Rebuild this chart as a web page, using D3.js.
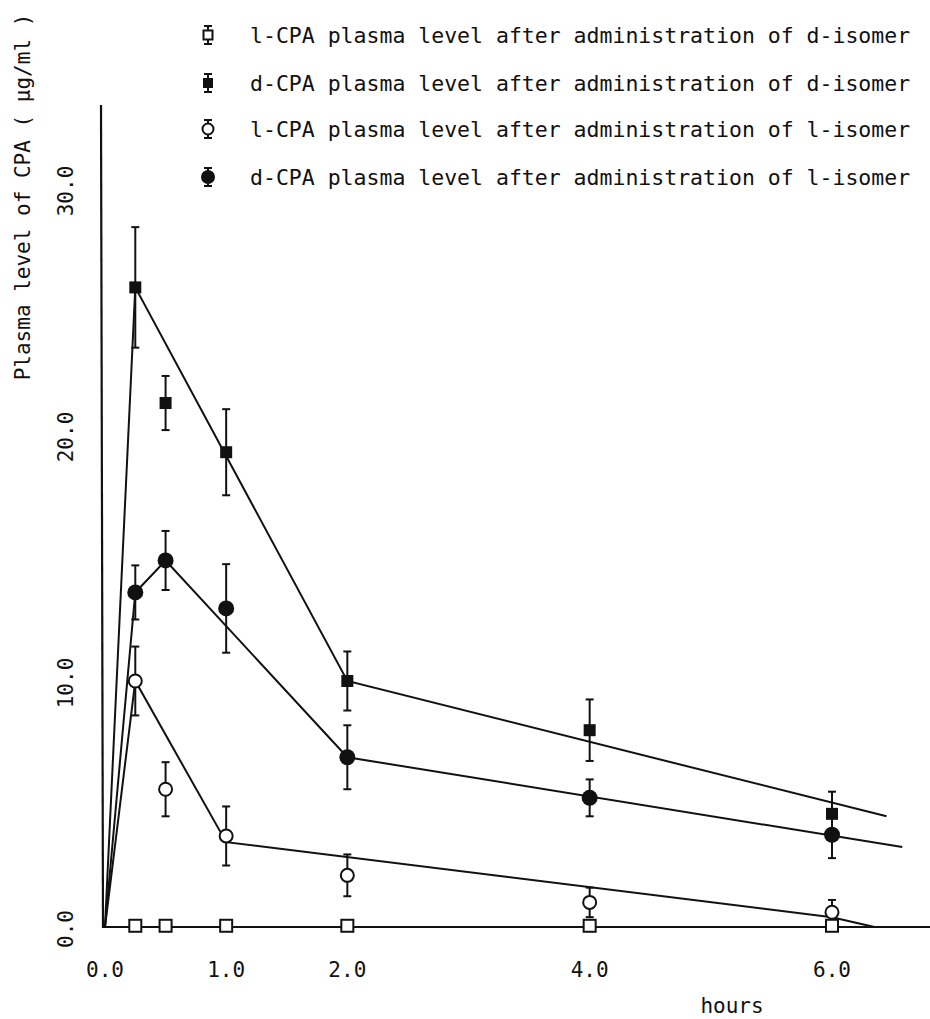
<!DOCTYPE html>
<html>
<head>
<meta charset="utf-8">
<script src="https://cdn.jsdelivr.net/npm/d3@7"></script>
<style>
  html, body { margin: 0; padding: 0; background: #fff; }
  svg { display: block; }
  text { font-family: "DejaVu Sans Mono", "Liberation Mono", monospace; fill: #111; }
</style>
</head>
<body>
<svg id="chart" width="930" height="1019"></svg>
<script>
// ---- data ----
const hours = [0.25, 0.5, 1, 2, 4, 6];

const lFromD = [0.05, 0.05, 0.05, 0.05, 0.05, 0.05];
const lFromDErr = [0.15, 0.1, 0.2, 0.2, 0.15, 0.2];
const dFromD = [26.0, 21.3, 19.3, 10.0, 8.0, 4.6];
const dFromDErr = [2.45, 1.1, 1.75, 1.2, 1.25, 0.9];
const lFromL = [10.0, 5.6, 3.7, 2.1, 1.0, 0.6];
const lFromLErr = [1.4, 1.1, 1.2, 0.85, 0.6, 0.5];
const dFromL = [13.6, 14.9, 12.95, 6.9, 5.25, 3.75];
const dFromLErr = [1.1, 1.2, 1.8, 1.3, 0.75, 0.95];

// fitted curves (x in hours, y in ug/ml)
const fitLD_x = [0, 6.9];                 const fitLD_y = [0, 0];
const fitDD_x = [0, 0.25, 2, 6.45];       const fitDD_y = [0, 26.0, 10.0, 4.5];
const fitLL_x = [0, 0.25, 1, 6, 6.35];    const fitLL_y = [0, 10.0, 3.45, 0.4, 0];
const fitDL_x = [0, 0.25, 0.5, 2, 6.58];  const fitDL_y = [0, 13.6, 14.9, 6.9, 3.25];

const xTicks = [0, 1, 2, 4, 6];
const yTicks = [0, 10, 20, 30];
const legendLabels = [
  "l-CPA plasma level after administration of d-isomer",
  "d-CPA plasma level after administration of d-isomer",
  "l-CPA plasma level after administration of l-isomer",
  "d-CPA plasma level after administration of l-isomer"
];
const yTitle = "Plasma level of CPA ( \u03bcg/ml )";
const xTitle = "hours";

// ---- drawing ----
const svg = d3.select("#chart");
const x = d3.scaleLinear().domain([0, 6]).range([105, 832]);
const y = d3.scaleLinear().domain([0, 30]).range([927, 189]);
const ink = "#111";

// axes lines
svg.append("line").attr("x1", 101).attr("x2", 103).attr("y1", 105).attr("y2", y(0))
  .attr("stroke", ink).attr("stroke-width", 2.2);
svg.append("line").attr("x1", 102).attr("x2", 930).attr("y1", y(0)).attr("y2", y(0))
  .attr("stroke", ink).attr("stroke-width", 2.2);

// x tick labels
svg.append("g").selectAll("text").data(xTicks).join("text")
  .attr("x", d => x(d)).attr("y", 977)
  .attr("text-anchor", "middle").attr("font-size", 21)
  .text(d => d3.format(".1f")(d));

// y tick labels (rotated)
svg.append("g").selectAll("text").data(yTicks).join("text")
  .attr("transform", d => `translate(66,${y(d) + 2}) rotate(-90)`)
  .attr("text-anchor", "middle").attr("dy", "0.35em").attr("font-size", 21)
  .text(d => d3.format(".1f")(d));

// axis titles
svg.append("text").attr("transform", "translate(23,197) rotate(-90)")
  .attr("text-anchor", "middle").attr("dy", "0.35em").attr("font-size", 21)
  .text(yTitle);
svg.append("text").attr("x", 732).attr("y", 1013).attr("text-anchor", "middle")
  .attr("font-size", 21).text(xTitle);

// fitted lines
const line = d3.line().x(d => x(d[0])).y(d => y(d[1]));
[[fitLD_x, fitLD_y], [fitDD_x, fitDD_y], [fitLL_x, fitLL_y], [fitDL_x, fitDL_y]].forEach(([xs, ys]) => {
  svg.append("path").datum(xs.map((v, i) => [v, ys[i]]))
    .attr("d", line).attr("fill", "none").attr("stroke", ink).attr("stroke-width", 2);
});

// error bars
function errorBars(vals, errs) {
  const g = svg.append("g").attr("stroke", ink).attr("stroke-width", 2);
  hours.forEach((h, i) => {
    const cx = x(h), top = y(vals[i] + errs[i]), bot = y(vals[i] - errs[i]);
    g.append("line").attr("x1", cx).attr("x2", cx).attr("y1", top).attr("y2", bot);
    g.append("line").attr("x1", cx - 4).attr("x2", cx + 4).attr("y1", top).attr("y2", top);
    g.append("line").attr("x1", cx - 4).attr("x2", cx + 4).attr("y1", bot).attr("y2", bot);
  });
}
errorBars(lFromD, lFromDErr);
errorBars(dFromD, dFromDErr);
errorBars(lFromL, lFromLErr);
errorBars(dFromL, dFromLErr);

// markers
svg.append("g").selectAll("rect").data(hours).join("rect")
  .attr("x", (d) => x(d) - 6).attr("y", (d, i) => y(lFromD[i]) - 6)
  .attr("width", 12).attr("height", 12)
  .attr("fill", "#fff").attr("stroke", ink).attr("stroke-width", 2);
svg.append("g").selectAll("rect").data(hours).join("rect")
  .attr("x", (d) => x(d) - 6).attr("y", (d, i) => y(dFromD[i]) - 6)
  .attr("width", 12).attr("height", 12).attr("fill", ink);
svg.append("g").selectAll("circle").data(hours).join("circle")
  .attr("cx", d => x(d)).attr("cy", (d, i) => y(lFromL[i])).attr("r", 6.5)
  .attr("fill", "#fff").attr("stroke", ink).attr("stroke-width", 2);
svg.append("g").selectAll("circle").data(hours).join("circle")
  .attr("cx", d => x(d)).attr("cy", (d, i) => y(dFromL[i])).attr("r", 8)
  .attr("fill", ink);

// legend
const legY = [35, 83, 129, 177];
const lg = svg.append("g");
legY.forEach((ly, i) => {
  const mx = 208;
  lg.append("line").attr("x1", mx).attr("x2", mx).attr("y1", ly - 9).attr("y2", ly + 9)
    .attr("stroke", ink).attr("stroke-width", 2);
  lg.append("line").attr("x1", mx - 4).attr("x2", mx + 4).attr("y1", ly - 9).attr("y2", ly - 9)
    .attr("stroke", ink).attr("stroke-width", 2);
  lg.append("line").attr("x1", mx - 4).attr("x2", mx + 4).attr("y1", ly + 9).attr("y2", ly + 9)
    .attr("stroke", ink).attr("stroke-width", 2);
  if (i === 0) lg.append("rect").attr("x", mx - 4.5).attr("y", ly - 4.5).attr("width", 9).attr("height", 9)
    .attr("fill", "#fff").attr("stroke", ink).attr("stroke-width", 2);
  if (i === 1) lg.append("rect").attr("x", mx - 5).attr("y", ly - 5).attr("width", 10).attr("height", 10)
    .attr("fill", ink);
  if (i === 2) lg.append("circle").attr("cx", mx).attr("cy", ly).attr("r", 5.5)
    .attr("fill", "#fff").attr("stroke", ink).attr("stroke-width", 2);
  if (i === 3) lg.append("circle").attr("cx", mx).attr("cy", ly).attr("r", 7).attr("fill", ink);
  lg.append("text").attr("x", 250).attr("y", ly).attr("dy", "0.35em")
    .attr("font-size", 21.5).text(legendLabels[i]);
});
</script>
</body>
</html>
